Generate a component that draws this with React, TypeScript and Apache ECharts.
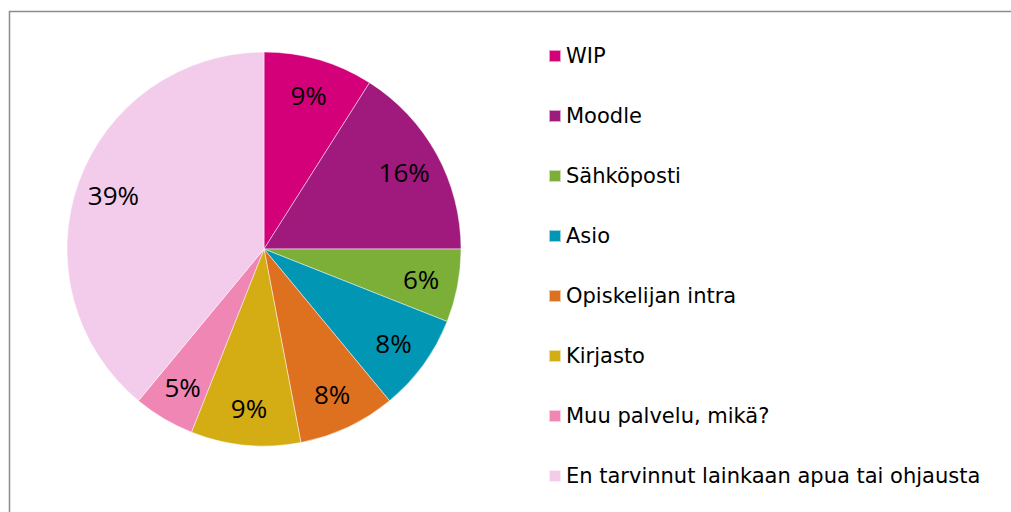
import React, { useEffect, useRef } from "react";
import * as echarts from "echarts";

const categories = [
  "WIP",
  "Moodle",
  "Sähköposti",
  "Asio",
  "Opiskelijan intra",
  "Kirjasto",
  "Muu palvelu, mikä?",
  "En tarvinnut lainkaan apua tai ohjausta",
];
const values = [9, 16, 6, 8, 8, 9, 5, 39];
const colors = [
  "#D4007A",
  "#A0197D",
  "#7BAF37",
  "#0096B4",
  "#DE7120",
  "#D4AC14",
  "#F086B4",
  "#F3CCEB",
];

export default function App() {
  const ref = useRef<HTMLDivElement>(null);
  useEffect(() => {
    if (!ref.current) return;
    const chart = echarts.init(ref.current, undefined, { renderer: "svg" });
    const data = categories.map((name, i) => ({
      name,
      value: values[i],
      itemStyle: { color: colors[i] },
    }));
    chart.setOption({
      animation: false,
      backgroundColor: "#fff",
      graphic: [
        {
          type: "rect",
          shape: { x: 9.5, y: 11.5, width: 1100, height: 600 },
          style: { fill: "none", stroke: "#8c8c8c", lineWidth: 1.5 },
          z: 0,
        },
      ],
      legend: {
        orient: "vertical",
        left: 543,
        top: 40,
        itemWidth: 12,
        itemHeight: 12,
        itemGap: 38,
        icon: "rect",
        data: categories,
        textStyle: {
          fontFamily: "DejaVu Sans",
          fontSize: 21,
          color: "#000",
          lineHeight: 22,
        },
      },
      series: [
        {
          type: "pie",
          center: [264, 249],
          radius: [0, 197],
          startAngle: 90,
          clockwise: true,
          label: { show: false },
          labelLine: { show: false },
          itemStyle: { borderColor: "rgba(255,255,255,0.6)", borderWidth: 0.8 },
          data,
        },
        {
          type: "pie",
          center: [264, 249],
          radius: [117, 197],
          startAngle: 90,
          clockwise: true,
          silent: true,
          legendHoverLink: false,
          z: 5,
          itemStyle: { color: "transparent", borderWidth: 0 },
          label: {
            show: true,
            position: "inside",
            formatter: (p: any) => p.value + "%",
            fontFamily: "Open Sans",
            fontSize: 26,
            color: "#000",
          },
          labelLine: { show: false },
          data: categories.map((name, i) => ({ name, value: values[i] })),
        },
      ],
    });
    return () => chart.dispose();
  }, []);
  return (
    <div
      ref={ref}
      style={{ position: "fixed", left: 0, top: 0, width: 1011, height: 512 }}
    />
  );
}
